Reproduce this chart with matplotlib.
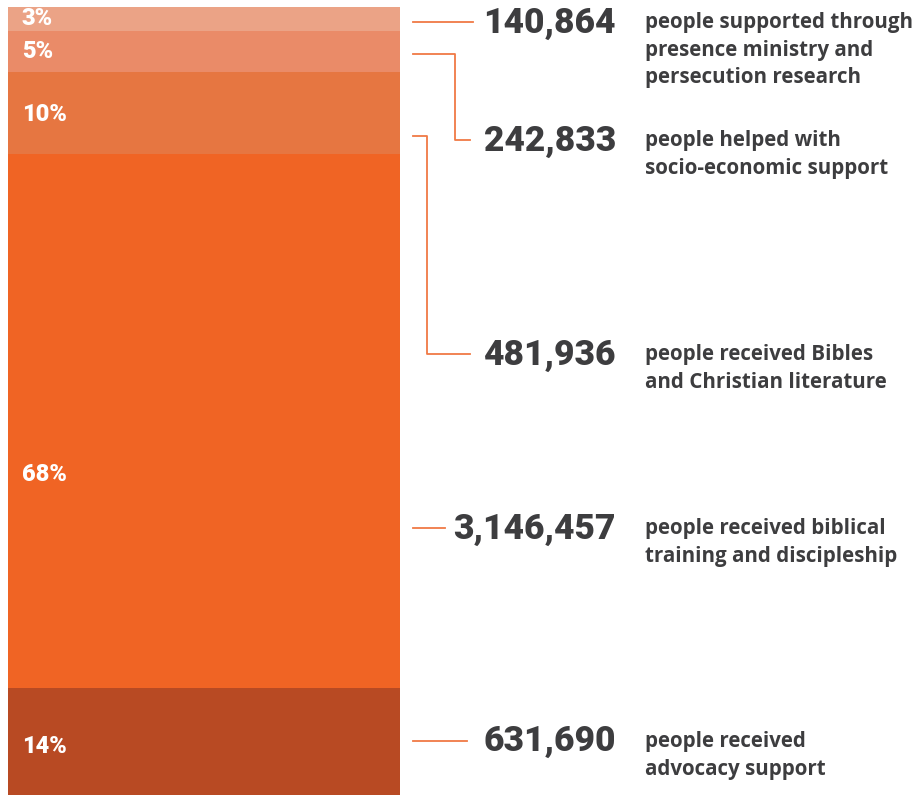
import numpy as np
import matplotlib.pyplot as plt
from matplotlib.lines import Line2D

# data, bottom segment first
counts = [631690, 3146457, 481936, 242833, 140864]
pct_labels = ["14%", "68%", "10%", "5%", "3%"]
descriptions = [
    "people received\nadvocacy support",
    "people received biblical\ntraining and discipleship",
    "people received Bibles\nand Christian literature",
    "people helped with\nsocio-economic support",
    "people supported through\npresence ministry and\npersecution research",
]
colors = ["#B84A23", "#F06424", "#E67641", "#EA8B68", "#EBA386"]
text_color = "#3D3D3F"
line_color = "#F07A45"

W, H = 921, 795
fig = plt.figure(figsize=(W / 100, H / 100), dpi=100)

# the stacked bar
ax = fig.add_axes([8 / W, 0, 392 / W, 788 / H])
bottoms = np.concatenate([[0], np.cumsum(counts)[:-1]])
ax.bar(0, counts, bottom=bottoms, width=1.0, color=colors, linewidth=0)
ax.set_xlim(-0.5, 0.5)
ax.set_ylim(0, sum(counts))
ax.set_axis_off()

heavy = ["Roboto", "DejaVu Sans"]

# label position inside each segment (fraction of segment height)
label_frac = [0.45, 0.40, 0.48, 0.5, 0.5]
for b, c, lab, f in zip(bottoms, counts, pct_labels, label_frac):
    ax.text(-0.465, b + c * f, lab, color="white", fontsize=17,
            fontweight="black", family=heavy, va="center", ha="left")

# overlay in pixel coords for call-outs
ov = fig.add_axes([0, 0, 1, 1])
ov.set_xlim(0, W)
ov.set_ylim(H, 0)
ov.set_axis_off()

# number rows (pixels from top), bottom segment first
num_y = [741, 528, 354, 140, 22]
# connector start heights on the bar side
start_y = [741, 528, 136, 54, 22]
elbow_x = [None, None, 427, 455, None]
end_x = [467, 445, 470, 470, 473]

for i in range(len(counts)):
    if elbow_x[i] is None:
        xs = [413, end_x[i]]
        ys = [num_y[i], num_y[i]]
    else:
        xs = [413, elbow_x[i], elbow_x[i], end_x[i]]
        ys = [start_y[i], start_y[i], num_y[i], num_y[i]]
    ov.add_line(Line2D(xs, ys, color=line_color, linewidth=1.3))
    ov.text(616, num_y[i] + 1, f"{counts[i]:,}", color=text_color,
            fontsize=25.5, fontweight="black", family=heavy,
            ha="right", va="center")
    ov.text(645, num_y[i] - 10, descriptions[i], color=text_color,
            fontsize=14.8, fontweight="bold", family=["Open Sans", "DejaVu Sans"],
            ha="left", va="top", linespacing=1.42)

fig.savefig("out.png", dpi=100)
